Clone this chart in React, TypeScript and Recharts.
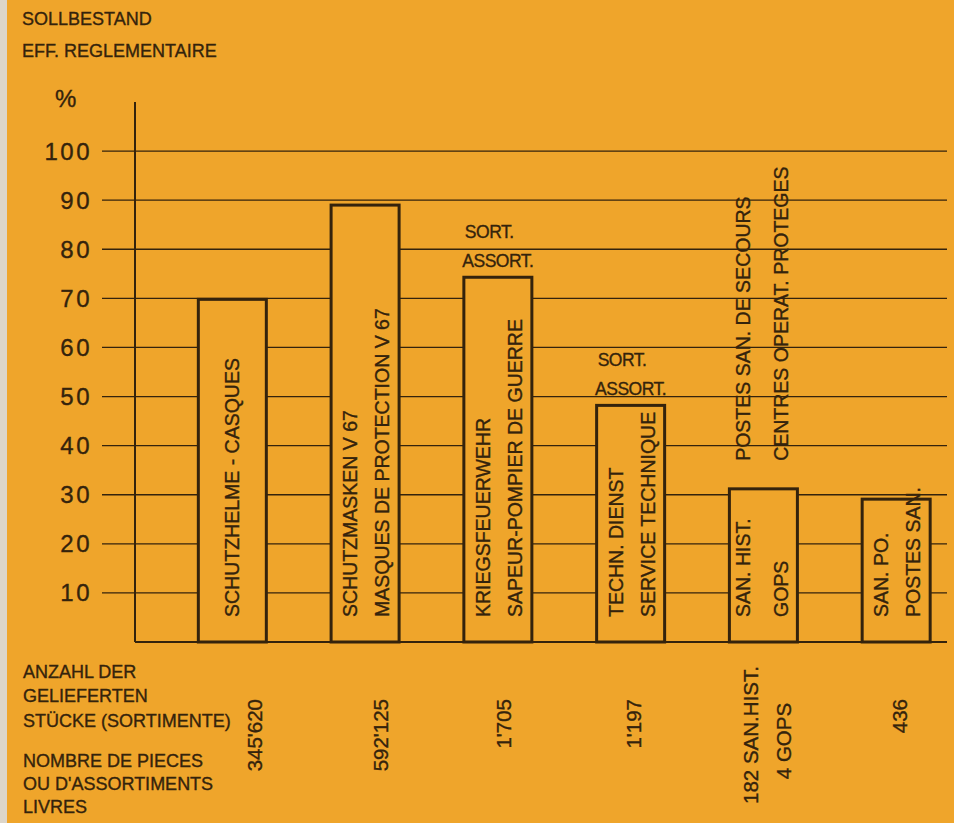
import React from "react";
import { BarChart, Bar, XAxis, YAxis, CartesianGrid } from "recharts";

// ---------- data ----------
const categories = [
  "Schutzhelme",
  "Schutzmasken V 67",
  "Kriegsfeuerwehr",
  "Techn. Dienst",
  "San. Hist. / GOPS",
  "San. Po.",
];
const positions = [0, 1, 2, 3, 4, 5];
const percentValues = [69.8, 89, 74.3, 48.2, 31.2, 29.1];
const insideLine1 = [
  "SCHUTZHELME - CASQUES",
  "SCHUTZMASKEN V 67",
  "KRIEGSFEUERWEHR",
  "TECHN. DIENST",
  "SAN. HIST.",
  "SAN. PO.",
];
const insideLine2 = [
  "",
  "MASQUES DE PROTECTION  V 67",
  "SAPEUR-POMPIER DE GUERRE",
  "SERVICE  TECHNIQUE",
  "GOPS",
  "POSTES SAN.",
];
const noteLine1 = ["", "", "SORT.", "SORT.", "", ""];
const noteLine2 = ["", "", "ASSORT.", "ASSORT.", "", ""];
const verticalNote1 = ["", "", "", "", "POSTES SAN. DE SECOURS", ""];
const verticalNote2 = ["", "", "", "", "CENTRES OPERAT. PROTEGES", ""];
const countLine1 = ["345'620", "592'125", "1'705", "1'197", "182 SAN.HIST.", "436"];
const countLine2 = ["", "", "", "", "4 GOPS", ""];
const yTicks = [10, 20, 30, 40, 50, 60, 70, 80, 90, 100];
const yDomain = [0, 110];
const titleLines = ["SOLLBESTAND", "EFF. REGLEMENTAIRE"];
const footLines = [
  "ANZAHL DER",
  "GELIEFERTEN",
  "STÜCKE (SORTIMENTE)",
  "NOMBRE DE PIECES",
  "OU D'ASSORTIMENTS",
  "LIVRES",
];

const data = categories.map((name, i) => ({
  name,
  pos: positions[i],
  value: percentValues[i],
  in1: insideLine1[i],
  in2: insideLine2[i],
  n1: noteLine1[i],
  n2: noteLine2[i],
  v1: verticalNote1[i],
  v2: verticalNote2[i],
}));

// ---------- style ----------
const BG = "#EFA52B";
const INK = "#34230c";
const FONT = "'Liberation Sans', Arial, sans-serif";
const TXT = { fill: INK, fontFamily: FONT, stroke: INK, strokeWidth: 0.35 };

// per-bar horizontal nudges of the count labels (layout only)
const countDx = [22, 15, 5, 3, 2, 3];

function VText({ x, y, text, size, anchor }: any) {
  return (
    <text x={x} y={y} transform={`rotate(-90 ${x} ${y})`} textAnchor={anchor} fontSize={size} {...TXT}>
      {text}
    </text>
  );
}

const BarShape = (props: any) => {
  const { x, y, width, height, payload } = props;
  const cx = x + width / 2;
  const bottom = y + height;
  const size = 19.5;
  const capH = size * 0.716;
  const lines = [payload.in1, payload.in2].filter((s: string) => s);
  const isWide = payload.pos === 4;
  const offs = lines.length === 1 ? [0] : isWide ? [-20, 18] : [-15, 17];
  const vlines = [payload.v1, payload.v2].filter((s: string) => s);
  return (
    <g>
      <rect x={x} y={y} width={width} height={height} fill={BG} stroke={INK} strokeWidth={3} />
      {lines.map((t: string, k: number) => (
        <VText key={k} x={cx + offs[k] + capH / 2} y={bottom - 25} text={t} size={size} anchor="start" />
      ))}
      {vlines.map((t: string, k: number) => (
        <VText key={"v" + k} x={cx + [-20, 18][k] + capH / 2} y={y - 28} text={t} size={size} anchor="start" />
      ))}
      {payload.n1 ? (
        <text x={cx - 33} y={y - 39} fontSize={17.5} {...TXT} letterSpacing={-0.5}>
          {payload.n1}
        </text>
      ) : null}
      {payload.n2 ? (
        <text x={cx} y={y - 10} fontSize={17.5} {...TXT} textAnchor="middle" letterSpacing={-0.5}>
          {payload.n2}
        </text>
      ) : null}
    </g>
  );
};

const YTick = (props: any) => {
  const { x, y, payload } = props;
  return (
    <text x={x} y={y + 8.5} textAnchor="end" fontSize={24} {...TXT} letterSpacing={2.5}>
      {payload.value}
    </text>
  );
};

const CountTick = (props: any) => {
  const { x, payload } = props;
  const i = Math.round(payload.value);
  const size = 20.5;
  const capH = size * 0.716;
  const lines = [countLine1[i], countLine2[i]].filter((s) => s);
  const cx = x + countDx[i];
  if (lines.length === 1) {
    return <VText x={cx + capH / 2} y={699} text={lines[0]} size={size} anchor="end" />;
  }
  return (
    <g>
      <VText x={cx - 15 + capH / 2} y={735} text={lines[0]} size={size} anchor="middle" />
      <VText x={cx + 18 + capH / 2} y={741} text={lines[1]} size={size} anchor="middle" />
    </g>
  );
};

const gridYs = (props: any) => {
  const { yAxis, offset } = props || {};
  const s = yAxis && yAxis.scale;
  if (typeof s === "function") return yTicks.map((t) => s(t));
  if (s && typeof s.map === "function") return yTicks.map((t) => s.map(t));
  const top = offset?.top ?? 102;
  const h = offset?.height ?? 540;
  return yTicks.map((t) => top + (h * (yDomain[1] - t)) / (yDomain[1] - yDomain[0]));
};

export default function App() {
  return (
    <div style={{ position: "absolute", left: 0, top: 0, width: 954, height: 823, background: "#ddd6ca" }}>
      <div style={{ position: "absolute", left: 7, top: 0, width: 947, height: 823, background: BG }} />
      <div style={{ position: "absolute", left: 0, top: 0 }}>
        <BarChart width={954} height={823} data={data} margin={{ top: 102, right: 7, bottom: 0, left: 0 }}>
          <CartesianGrid
            vertical={false}
            stroke={INK}
            strokeWidth={1.3}
            horizontalCoordinatesGenerator={gridYs}
          />
          <XAxis
            type="number"
            dataKey="pos"
            domain={[-0.736, 5.38]}
            ticks={positions}
            allowDataOverflow
            height={181}
            axisLine={{ stroke: INK, strokeWidth: 2 }}
            tickLine={false}
            tick={<CountTick />}
            interval={0}
          />
          <YAxis
            type="number"
            domain={yDomain}
            ticks={yTicks}
            width={135}
            tickSize={33}
            tickMargin={10}
            axisLine={{ stroke: INK, strokeWidth: 2 }}
            tickLine={{ stroke: INK, strokeWidth: 1.3 }}
            tick={<YTick />}
            interval={0}
          />
          <Bar dataKey="value" barSize={68} shape={<BarShape />} isAnimationActive={false} />
        </BarChart>
      </div>
      <svg width={954} height={823} style={{ position: "absolute", left: 0, top: 0, pointerEvents: "none" }}>
        <text x={22} y={25} fontSize={18} {...TXT}>{titleLines[0]}</text>
        <text x={22} y={57} fontSize={18} {...TXT}>{titleLines[1]}</text>
        <text x={55} y={107} fontSize={24} {...TXT}>%</text>
        {footLines.map((t, k) => (
          <text key={k} x={23} y={[678, 702, 727, 767, 790, 813][k]} fontSize={18} {...TXT}>
            {t}
          </text>
        ))}
      </svg>
    </div>
  );
}
